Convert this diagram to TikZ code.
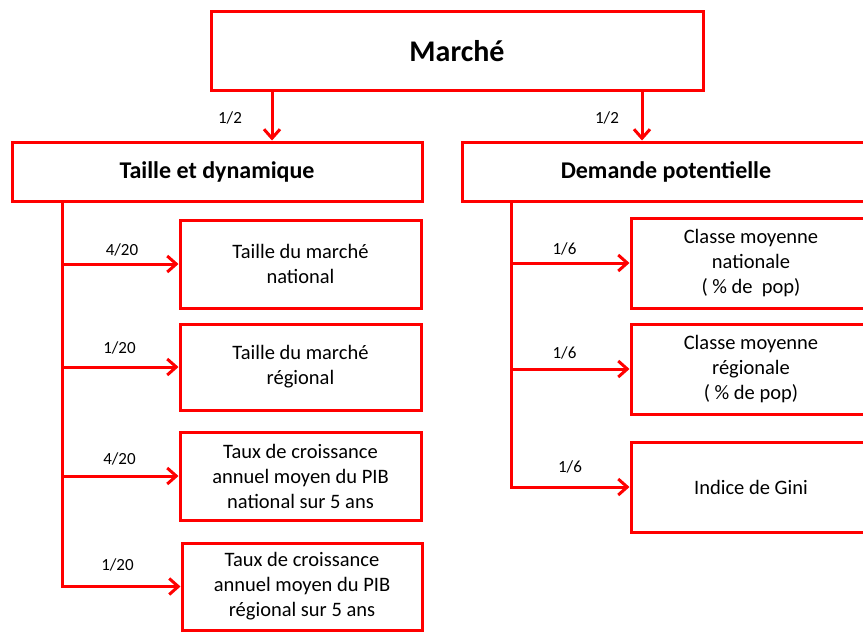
\documentclass[tikz,border=0pt]{standalone}
\usepackage{fontspec}
\setmainfont{Carlito}
\usetikzlibrary{arrows.meta}
\begin{document}
\begin{tikzpicture}[x=1pt,y=-1pt,
  box/.style={draw=red, line width=3pt, inner sep=0pt, align=center,
    font=\fontsize{20.5}{25}\selectfont},
  arr/.style={draw=red, line width=3pt, -{Straight Barb[length=9pt,width=16pt]}},
  lbl/.style={font=\fontsize{17}{20}\selectfont, anchor=base, inner sep=0pt}]
\useasboundingbox (0,0) rectangle (863,632);
\clip (0,0) rectangle (863,632);
\fill[white] (0,0) rectangle (863,632);
% top
\node[box, minimum width=492pt, minimum height=79pt, font=\fontsize{30}{34}\selectfont\bfseries] (M) at (457,51) {Marché};
\node[box, minimum width=410pt, minimum height=59pt, font=\fontsize{24}{28}\selectfont\bfseries] (T) at (217,171.5) {Taille et dynamique};
\node[box, minimum width=408pt, minimum height=59pt, font=\fontsize{24}{28}\selectfont\bfseries] (D) at (666,171.5) {Demande potentielle};
% left children
\node[box, minimum width=241pt, minimum height=88pt] (L1) at (300.5,264) {Taille du marché\\national};
\node[box, minimum width=241pt, minimum height=86pt] (L2) at (300.5,367) {Taille du marché\\régional};
\node[box, minimum width=241pt, minimum height=88pt] (L3) at (300.5,476) {Taux de croissance\\annuel moyen du PIB\\national sur 5 ans};
\node[box, minimum width=240pt, minimum height=87pt] (L4) at (302,586.5) {Taux de croissance\\annuel moyen du PIB\\régional sur 5 ans};
% right children
\node[box, minimum width=240pt, minimum height=90pt] (R1) at (751,263) {Classe moyenne\\nationale\\( \% de\ \ pop)};
\node[box, minimum width=240pt, minimum height=90pt] (R2) at (751,369) {Classe moyenne\\régionale\\( \% de pop)};
\node[box, minimum width=240pt, minimum height=90pt] (R3) at (751,487) {Indice de Gini};
% top arrows
\coordinate (a1) at (272,91);
\coordinate (a2) at (642,91);
\draw[arr] (a1) -- (a1 |- T.north);
\draw[arr] (a2) -- (a2 |- D.north);
\node[lbl] (w1) at (230,123) {1/2};
\node[lbl] (w2) at (607,123) {1/2};
% left trunk
\coordinate (tl) at (62,201);
\draw[arr] (tl) |- (L4.west);
\draw[arr] (tl |- L1.west) -- (L1.west);
\draw[arr] (tl |- L2.west) -- (L2.west);
\draw[arr] (tl |- L3.west) -- (L3.west);
\node[lbl] (w3) at (122,255) {4/20};
\node[lbl] (w4) at (119.5,353) {1/20};
\node[lbl] (w5) at (119.5,464) {4/20};
\node[lbl] (w6) at (117.5,570) {1/20};
% right trunk
\coordinate (tr) at (511,201);
\draw[arr] (tr) |- (R3.west);
\draw[arr] (tr |- R1.west) -- (R1.west);
\draw[arr] (tr |- R2.west) -- (R2.west);
\node[lbl] (w7) at (564.5,254) {1/6};
\node[lbl] (w8) at (564.5,358) {1/6};
\node[lbl] (w9) at (570,472) {1/6};
\end{tikzpicture}
\end{document}
